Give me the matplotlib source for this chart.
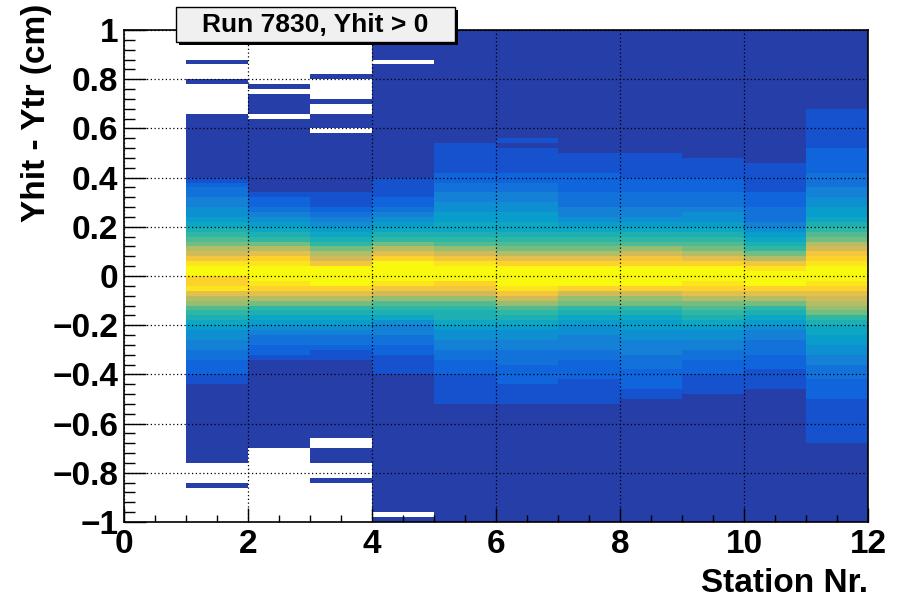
import numpy as np
import matplotlib
matplotlib.use("Agg")
import matplotlib.pyplot as plt
from matplotlib.colors import ListedColormap
from matplotlib.patches import Rectangle

plt.rcParams['font.family'] = ['Liberation Sans', 'DejaVu Sans']
plt.rcParams['font.weight'] = 'bold'

# ---------------- data -----------------
title = "Run 7830, Yhit > 0"
x_label = "Station Nr."
y_label = "Yhit - Ytr (cm)"

x_edges = [0, 1, 2, 3, 4, 5, 6, 7, 8, 9, 10, 11, 12]
y_min, y_max, n_ybins = -1.0, 1.0, 100
stations = [1, 2, 3, 4, 5, 6, 7, 8, 9, 10, 11]   # lower edge of each station bin

# colour level (ROOT 20-contour index, 0..9 then a..j = 10..19) per y bin,
# listed from y = +1 (top) down to y = -1 ; '.' = empty bin
st1 = ("......0...0......000" "00000000001233445567" "89abdegijjhhifdca987"
       "65544332221100000000" "00000000....0.......")
st2 = ("...........0.0000.00" "00000000000001223456" "789bdfhijjjihfdb9876"
       "54332210000000000000" "00000...............")
st3 = (".........0....0..000" ".0000000000001112345" "6789bdegjjjjhfdb9876"
       "54332110000000000000" "000..000...0........")
st4 = ("000000.0000000000000" "00000000001111223456" "789bdfhjjjjigeca9875"
       "44332211110000000000" "000000000000000000.0")
st5 = ("00000000000000000000" "00011111122334455667" "789acegijjjhgeca9887"
       "65544332221111110000" "00000000000000000000")
st6 = ("00000000000000000000" "00101111122334455667" "789abdfhjjjjigeca987"
       "65544333222211110000" "00000000000000000000")
st7 = ("00000000000000000000" "00000111122223334456" "789abdfhjjjjhecb9876"
       "55444332222111110000" "00000000000000000000")
st8 = ("00000000000000000000" "00000111112223334456" "789aceghjjjjhecb9876"
       "65544433322221100000" "00000000000000000000")
st9 = ("00000000000000000000" "00000011112223334556" "789abdfhjjjihfdba987"
       "65544332221111000000" "00000000000000000000")
st10 = ("00000000000000000000" "00000001111112223334" "56789bdgijjjhfdb9876"
        "54433322211110000000" "00000000000000000000")
st11 = ("00000000000000001111" "11112222233344556678" "9abdeghijjjihfedcb98"
        "77665544333222211111" "11110000000000000000")
station_levels = [st1, st2, st3, st4, st5, st6, st7, st8, st9, st10, st11]

xtick_vals = [0, 2, 4, 6, 8, 10, 12]
xtick_labels = ["0", "2", "4", "6", "8", "10", "12"]
ytick_vals = [-1, -0.8, -0.6, -0.4, -0.2, 0, 0.2, 0.4, 0.6, 0.8, 1]
ytick_labels = ["\u22121", "\u22120.8", "\u22120.6", "\u22120.4", "\u22120.2", "0",
                "0.2", "0.4", "0.6", "0.8", "1"]

# ---------------- ROOT kBird palette, 20 contours -----------------
stops = [0.0, 0.125, 0.25, 0.375, 0.5, 0.625, 0.75, 0.875, 1.0]
red = [0.2082, 0.0592, 0.0780, 0.0232, 0.1802, 0.5301, 0.8186, 0.9956, 0.9764]
green = [0.1664, 0.3599, 0.5041, 0.6419, 0.7178, 0.7492, 0.7328, 0.7862, 0.9832]
blue = [0.5293, 0.8684, 0.8385, 0.7914, 0.6425, 0.4662, 0.3499, 0.1968, 0.0539]


def bird_table(n=255):
    table = []
    for g in range(1, len(stops)):
        nc = int(np.floor(n * stops[g]) - np.floor(n * stops[g - 1]))
        for c in range(nc):
            f = c / nc
            table.append((red[g - 1] + f * (red[g] - red[g - 1]),
                          green[g - 1] + f * (green[g] - green[g - 1]),
                          blue[g - 1] + f * (blue[g] - blue[g - 1])))
    return table


tab = bird_table()
ndiv = 20
level_colors = [tab[min(int((i + 0.99) * len(tab) / ndiv), len(tab) - 1)] for i in range(ndiv)]
cmap = ListedColormap(level_colors)


def decode(ch):
    if ch == '.':
        return np.nan
    if ch.isdigit():
        return float(ch)
    return float(ord(ch) - ord('a') + 10)


nx = len(x_edges) - 1
Z = np.full((n_ybins, nx), np.nan)
for st, s in zip(stations, station_levels):
    assert len(s) == n_ybins, (st, len(s))
    col = np.array([decode(c) for c in s])[::-1]   # bottom -> top
    Z[:, x_edges.index(st)] = col
Zm = np.ma.masked_invalid(Z)
y_edges = np.linspace(y_min, y_max, n_ybins + 1)

# ---------------- figure -----------------
W, H = 905, 603
fig = plt.figure(figsize=(W / 100, H / 100), dpi=100)
ax = fig.add_axes([124 / W, (H - 522) / H, (868 - 124) / W, (522 - 30) / H])
ax.pcolormesh(x_edges, y_edges, Zm, cmap=cmap, vmin=-0.5, vmax=ndiv - 0.5,
              shading='flat', edgecolors='none', antialiased=False)

ax.set_xlim(x_edges[0], x_edges[-1])
ax.set_ylim(y_min, y_max)
ax.set_xticks(xtick_vals)
ax.set_xticklabels(xtick_labels)
ax.set_yticks(ytick_vals)
ax.set_yticklabels(ytick_labels)
ax.set_xticks(np.arange(0, 12.001, 0.5), minor=True)
ax.set_yticks(np.arange(-1, 1.0001, 0.04), minor=True)

ax.tick_params(axis='both', which='both', direction='in', top=False, right=False,
               labelsize=24, width=1.0, color='black')
ax.tick_params(axis='x', which='major', length=10, pad=5)
ax.tick_params(axis='x', which='minor', length=5)
ax.tick_params(axis='y', which='major', length=16, pad=4)
ax.tick_params(axis='y', which='minor', length=8)
for lab in ax.get_xticklabels() + ax.get_yticklabels():
    lab.set_fontweight('bold')

ax.set_axisbelow(False)
ax.grid(True, which='major', color='black', linestyle=(0, (1, 2)), linewidth=0.9)
for sp in ax.spines.values():
    sp.set_linewidth(1.2)
    sp.set_color('black')

# axis titles (ROOT style: aligned at the axis end)
fig.text(868 / W, 1 - 583 / H, x_label, ha='right', va='center',
         fontsize=24, fontweight='bold')
fig.text(37 / W, 1 - 4 / H, y_label, ha='center', va='top', rotation=90,
         fontsize=24, fontweight='bold')

# title box with shadow
bx0, bx1, by0, by1 = 176, 455, 7, 42
fig.patches.append(Rectangle(((bx0 + 3) / W, 1 - (by1 + 3) / H), (bx1 - bx0) / W,
                             (by1 - by0) / H, transform=fig.transFigure,
                             facecolor='black', edgecolor='none', zorder=5))
fig.patches.append(Rectangle((bx0 / W, 1 - by1 / H), (bx1 - bx0) / W,
                             (by1 - by0) / H, transform=fig.transFigure,
                             facecolor='#f0f0f0', edgecolor='black', linewidth=1.0,
                             zorder=6))
fig.text((bx0 + bx1) / 2 / W, 1 - (by0 + by1) / 2 / H, title, ha='center',
         va='center', fontsize=19, fontweight='bold', zorder=7)

fig.savefig("out.png", dpi=100)
